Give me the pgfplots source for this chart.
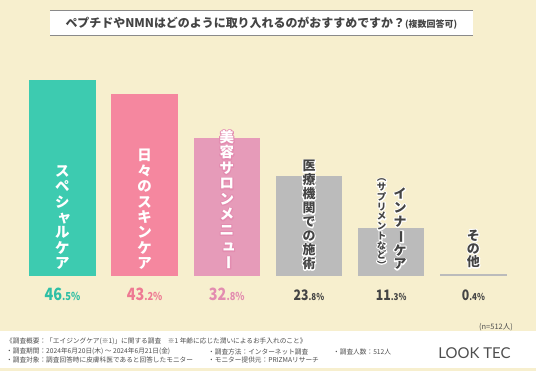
\documentclass[border=0pt]{standalone}
\usepackage{pgfplots}
\pgfplotsset{compat=1.18}
\usepackage{graphicx}
\usepackage{fontspec}
\setmainfont{Noto Sans CJK JP}
\newfontfamily\lato{Lato}
\definecolor{bg}{HTML}{F7EFCE}
\definecolor{cteal}{HTML}{3DCBB0}
\definecolor{cpink}{HTML}{F5879F}
\definecolor{clpink}{HTML}{E69BB9}
\definecolor{cgray}{HTML}{BBBBBB}
\definecolor{tteal}{HTML}{2EBFA5}
\definecolor{tpink}{HTML}{EE7A93}
\definecolor{tlpink}{HTML}{E38CB0}
\definecolor{txt}{HTML}{444444}
\definecolor{foot}{HTML}{4E4E4E}
\definecolor{tline}{HTML}{8A8A8A}
\newcommand\vbar{\rotatebox[origin=c]{-90}{ー}}
\newcommand\vlp{\rotatebox[origin=c]{-90}{（}}
\newcommand\vrp{\rotatebox[origin=c]{-90}{）}}
\newcommand\sk[1]{\hspace*{4bp}#1}
\newcommand\strokeon{\special{pdf:literal direct 1 Tr 2.2 w 1 j}}
\newcommand\strokeoff{\special{pdf:literal direct 0 Tr}}
% x, y, halo colour, text colour, font, content
\newcommand\vlabel[6]{%
  \node[anchor=south,inner sep=0,text=#3,align=center,font=#5] at (#1,#2) {\strokeon#6\strokeoff};
  \node[anchor=south,inner sep=0,text=#4,align=center,font=#5] at (#1,#2) {#6};}
\newcommand\pct[3]{% x, colour, content
  \node[anchor=base,text=#2,inner sep=0] at (#1,70.3) {\scalebox{0.85}[1]{\bfseries#3}};}
\begin{document}
\begin{tikzpicture}[x=1bp,y=1bp]
\fill[bg] (0,0) rectangle (536,371);
% title
\fill[white] (50,335.3) rectangle (472.7,360.3);
\draw[tline,line width=1.5bp] (50,360.3)--(472.7,360.3);
\draw[tline,line width=1.5bp] (50,335.3)--(472.7,335.3);
\node[text=txt,font=\bfseries\fontsize{12}{12}\selectfont] at (261.3,347.8) {ペプチドやNMNはどのように取り入れるのがおすすめですか？{\fontsize{9}{9}\selectfont(複数回答可)}};
\begin{axis}[at={(21.3bp,95bp)},anchor=south west,scale only axis,
  width=493.2bp,height=210.75bp,xmin=-0.5,xmax=5.5,ymin=0,ymax=50,
  hide axis,ybar,bar width=66.5bp,bar shift=0pt]
\addplot[fill=cteal,draw=none] coordinates {(0,46.5)};
\addplot[fill=cpink,draw=none] coordinates {(1,43.2)};
\addplot[fill=clpink,draw=none] coordinates {(2,32.8)};
\addplot[fill=cgray,draw=none] coordinates {(3,23.8)};
\addplot[fill=cgray,draw=none] coordinates {(4,11.3)};
\addplot[fill=cgray,draw=none] coordinates {(5,0.4)};
\end{axis}
% bar labels
\vlabel{62.4}{101}{cteal}{white}{\bfseries\fontsize{14.5}{15.5}\selectfont}{ス\\ペ\\シ\\\sk{ャ}\\ル\\ケ\\ア}
\vlabel{144.6}{101}{cpink}{white}{\bfseries\fontsize{14.5}{15.5}\selectfont}{日\\々\\の\\ス\\キ\\ン\\ケ\\ア}
\vlabel{226.8}{101}{tlpink}{white}{\bfseries\fontsize{14.5}{15.5}\selectfont}{美\\容\\サ\\ロ\\ン\\メ\\ニ\\\sk{ュ}\\\vbar}
\vlabel{309}{101}{white}{txt}{\bfseries\fontsize{13}{14}\selectfont}{医\\療\\機\\関\\で\\の\\施\\術}
\vlabel{400}{101}{white}{txt}{\bfseries\fontsize{13}{13.9}\selectfont}{イ\\ン\\ナ\\\vbar\\ケ\\ア}
\vlabel{381.7}{101}{white}{txt}{\bfseries\fontsize{9.5}{9.8}\selectfont}{\vlp\\サ\\プ\\リ\\メ\\ン\\ト\\な\\ど\\\vrp}
\vlabel{473.4}{103}{white}{txt}{\bfseries\fontsize{13}{13.3}\selectfont}{そ\\の\\他}
% percentages
\pct{62.4}{tteal}{{\fontsize{17}{17}\selectfont 46}{\fontsize{11}{11}\selectfont .5\%}}
\pct{144.6}{tpink}{{\fontsize{17}{17}\selectfont 43}{\fontsize{11}{11}\selectfont .2\%}}
\pct{226.8}{tlpink}{{\fontsize{17}{17}\selectfont 32}{\fontsize{11}{11}\selectfont .8\%}}
\pct{309}{txt}{{\fontsize{14.5}{14.5}\selectfont 23}{\fontsize{9.5}{9.5}\selectfont .8\%}}
\pct{391.2}{txt}{{\fontsize{14.5}{14.5}\selectfont 11}{\fontsize{9.5}{9.5}\selectfont .3\%}}
\pct{473.4}{txt}{{\fontsize{14.5}{14.5}\selectfont 0}{\fontsize{9.5}{9.5}\selectfont .4\%}}
\node[anchor=east,text=foot,inner sep=0,font=\fontsize{7.5}{7.5}\selectfont] at (513,44) {(n=512人)};
% footer
\fill[white] (0,3) rectangle (536,40);
\begin{scope}[every node/.style={anchor=west,inner sep=0,text=foot,font=\fontsize{6.7}{6.7}\selectfont}]
\node at (6,29.3) {《調査概要：「エイジングケア(※1)」に関する調査　※1 年齢に応じた潤いによるお手入れのこと》};
\node at (6,19.3) {・調査期間：2024年6月20日(木) ～ 2024年6月21日(金)};
\node at (208,19.3) {・調査方法：インターネット調査};
\node at (333,19.3) {・調査人数：512人};
\node at (6,11) {・調査対象：調査回答時に皮膚科医であると回答したモニター};
\node at (208,11) {・モニター提供元：PRIZMAリサーチ};
\end{scope}
\node[anchor=center,inner sep=0,text=foot,font=\lato\fontsize{15}{15}\selectfont] at (474.5,18.3) {LOOK TEC};
\end{tikzpicture}
\end{document}
